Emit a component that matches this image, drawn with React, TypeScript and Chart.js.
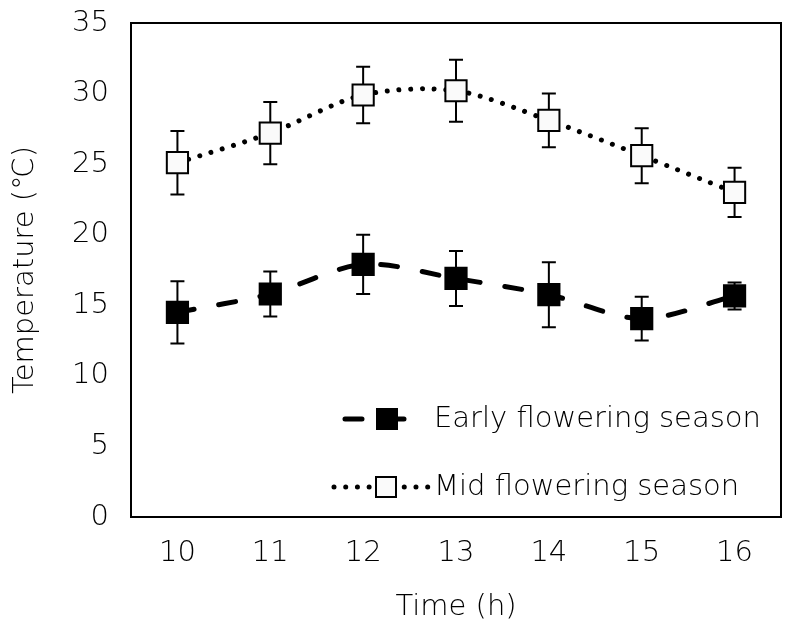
import React, { useEffect, useRef } from "react";
import { Chart, registerables } from "chart.js";

Chart.register(...registerables);

const hours = ["10", "11", "12", "13", "14", "15", "16"];
const earlyMean = [14.5, 15.8, 17.9, 16.9, 15.75, 14.05, 15.66];
const earlyErr = [2.2, 1.6, 2.1, 1.95, 2.3, 1.55, 0.95];
const midMean = [25.1, 27.2, 29.9, 30.2, 28.1, 25.6, 23.0];
const midErr = [2.25, 2.2, 2.0, 2.2, 1.9, 1.95, 1.75];
const yTicks = [0, 5, 10, 15, 20, 25, 30, 35];
const seriesNames = ["Early flowering season", "Mid flowering season"];
const xTitle = "Time (h)";
const yTitle = "Temperature (℃)";
const errors = [earlyErr, midErr];

const FONT = "'DejaVu Sans', sans-serif";
const FS = 29;
const FW = "200";

const errorBarPlugin = {
  id: "errorBars",
  beforeDatasetsDraw(chart: any) {
    const ctx = chart.ctx;
    const yScale = chart.scales.y;
    ctx.save();
    ctx.strokeStyle = "#000";
    ctx.lineWidth = 2;
    chart.data.datasets.forEach((ds: any, di: number) => {
      const meta = chart.getDatasetMeta(di);
      meta.data.forEach((pt: any, i: number) => {
        const v = ds.data[i];
        const e = errors[di][i];
        const x = pt.x;
        const yt = yScale.getPixelForValue(v + e);
        const yb = yScale.getPixelForValue(v - e);
        ctx.beginPath();
        ctx.moveTo(x, yt);
        ctx.lineTo(x, yb);
        ctx.moveTo(x - 7, yt);
        ctx.lineTo(x + 7, yt);
        ctx.moveTo(x - 7, yb);
        ctx.lineTo(x + 7, yb);
        ctx.stroke();
      });
    });
    ctx.restore();
  },
};

const frameLegendPlugin = {
  id: "frameLegend",
  afterDraw(chart: any) {
    const ctx = chart.ctx;
    const a = chart.chartArea;
    ctx.save();
    ctx.strokeStyle = "#000";
    ctx.lineWidth = 2;
    ctx.beginPath();
    ctx.moveTo(a.left, a.top);
    ctx.lineTo(a.right, a.top);
    ctx.lineTo(a.right, a.bottom);
    ctx.stroke();

    ctx.fillStyle = "#000";
    ctx.font = `${FW} ${FS}px ${FONT}`;
    ctx.textBaseline = "middle";
    ctx.textAlign = "center";
    ctx.fillText(xTitle, (a.left + a.right) / 2, 607);
    ctx.save();
    ctx.translate(25, (a.top + a.bottom) / 2);
    ctx.rotate(-Math.PI / 2);
    ctx.fillText(yTitle, 0, 0);
    ctx.restore();

    const items = [
      { y: 419, x0: 345, x1: 408, mx: 387 },
      { y: 487, x0: 334, x1: 428, mx: 386 },
    ];
    chart.data.datasets.forEach((ds: any, i: number) => {
      const it = items[i];
      ctx.save();
      ctx.strokeStyle = ds.borderColor;
      ctx.lineWidth = ds.borderWidth;
      ctx.lineCap = "round";
      ctx.setLineDash(ds.borderDash);
      ctx.beginPath();
      ctx.moveTo(it.x0, it.y);
      ctx.lineTo(it.x1, it.y);
      ctx.stroke();
      ctx.restore();
      const s = 20;
      ctx.fillStyle = ds.pointBackgroundColor;
      ctx.fillRect(it.mx - s / 2, it.y - s / 2, s, s);
      ctx.lineWidth = 2;
      ctx.strokeStyle = "#000";
      ctx.strokeRect(it.mx - s / 2, it.y - s / 2, s, s);
      ctx.fillStyle = "#000";
      ctx.font = `${FW} ${FS}px ${FONT}`;
      ctx.textBaseline = "middle";
      ctx.textAlign = "left";
      ctx.fillText(ds.label, 434, it.y);
    });
    ctx.restore();
  },
};

export default function App() {
  const ref = useRef<HTMLCanvasElement | null>(null);
  useEffect(() => {
    if (!ref.current) return;
    const font = { family: FONT, size: FS, weight: FW };
    const chart = new Chart(ref.current, {
      type: "line",
      data: {
        labels: hours,
        datasets: [
          {
            label: seriesNames[0],
            data: earlyMean,
            borderColor: "#000",
            borderWidth: 5,
            borderDash: [17, 25],
            borderCapStyle: "round",
            pointStyle: "rect",
            pointRadius: 15,
            pointBackgroundColor: "#000",
            pointBorderColor: "#000",
            pointBorderWidth: 2,
            tension: 0.3,
          },
          {
            label: seriesNames[1],
            data: midMean,
            borderColor: "#000",
            borderWidth: 5,
            borderDash: [0.01, 11.7],
            borderCapStyle: "round",
            pointStyle: "rect",
            pointRadius: 15,
            pointBackgroundColor: "#fafafa",
            pointBorderColor: "#000",
            pointBorderWidth: 2,
            tension: 0.3,
          },
        ],
      },
      options: {
        responsive: false,
        animation: false,
        layout: { autoPadding: false, padding: { top: 23, right: 6, left: 0, bottom: 0 } },
        plugins: { legend: { display: false }, tooltip: { enabled: false } },
        scales: {
          x: {
            offset: true,
            grid: { display: false, drawTicks: false },
            border: { display: true, color: "#000", width: 2 },
            ticks: { color: "#000", font, padding: 19 },
            afterFit(scale: any) {
              scale.height = 118;
              scale.paddingLeft = 0;
              scale.paddingRight = 0;
            },
          },
          y: {
            min: 0,
            max: 35,
            afterBuildTicks(scale: any) {
              scale.ticks = yTicks.map((v) => ({ value: v }));
            },
            grid: { display: false, drawTicks: false },
            border: { display: true, color: "#000", width: 2 },
            ticks: { color: "#000", font, padding: 22 },
            afterFit(scale: any) {
              scale.width = 131;
              scale.paddingTop = 0;
              scale.paddingBottom = 0;
            },
          },
        },
      },
      plugins: [errorBarPlugin, frameLegendPlugin],
    } as any);
    return () => chart.destroy();
  }, []);
  return (
    <div style={{ position: "fixed", left: 0, top: 0, width: 787, height: 635, background: "#fff" }}>
      <canvas ref={ref} width={787} height={635} />
    </div>
  );
}
